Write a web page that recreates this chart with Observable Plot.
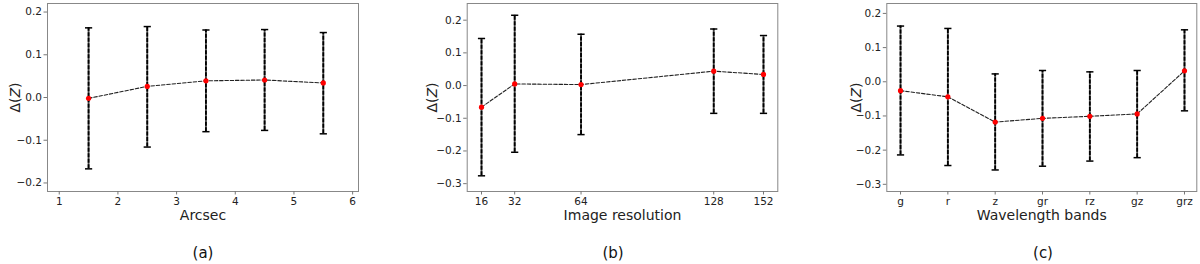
<!DOCTYPE html>
<html>
<head>
<meta charset="utf-8">
<script src="https://cdn.jsdelivr.net/npm/d3@7"></script>
<script src="https://cdn.jsdelivr.net/npm/@observablehq/plot@0.6"></script>
<style>
  html, body { margin: 0; padding: 0; background: #fff; }
  body { width: 1200px; height: 264px; position: relative; overflow: hidden; font-family: "DejaVu Sans", sans-serif; }
  .panel { position: absolute; top: 0; width: 400px; height: 264px; }
  .caption { position: absolute; top: 244px; font-size: 15px; color: #111; transform: translateX(-50%); }
  g[aria-label="x-axis label"] text, g[aria-label="y-axis label"] text { font-size: 14px; }
</style>
</head>
<body>
<div id="pa" class="panel" style="left:0"></div>
<div id="pb" class="panel" style="left:400px"></div>
<div id="pc" class="panel" style="left:800px"></div>
<div class="caption" style="left:203px">(a)</div>
<div class="caption" style="left:613px">(b)</div>
<div class="caption" style="left:1043px">(c)</div>
<script>
// ---- data ----
const arcsec = [1.5, 2.5, 3.5, 4.5, 5.5];
const arcsecMean = [-0.002, 0.026, 0.039, 0.041, 0.034];
const arcsecLow = [-0.167, -0.116, -0.080, -0.077, -0.085];
const arcsecHigh = [0.163, 0.166, 0.158, 0.159, 0.152];
const arcsecTicks = [1, 2, 3, 4, 5, 6];

const resolution = [16, 32, 64, 128, 152];
const resolutionMean = [-0.066, 0.005, 0.003, 0.044, 0.034];
const resolutionLow = [-0.276, -0.204, -0.150, -0.085, -0.085];
const resolutionHigh = [0.144, 0.215, 0.157, 0.173, 0.153];
const resolutionTicks = [16, 32, 64, 128, 152];

const bands = ["g", "r", "z", "gr", "rz", "gz", "grz"];
const bandsMean = [-0.026, -0.044, -0.118, -0.107, -0.101, -0.094, 0.032];
const bandsLow = [-0.214, -0.245, -0.258, -0.247, -0.232, -0.222, -0.085];
const bandsHigh = [0.163, 0.156, 0.023, 0.033, 0.029, 0.033, 0.152];

const yTicksA = [-0.2, -0.1, 0.0, 0.1, 0.2];
const yTicksBC = [-0.3, -0.2, -0.1, 0.0, 0.1, 0.2];

// horizontal cap symbol
const capSymbol = {
  draw(ctx, size) {
    const w = Math.sqrt(size / Math.PI);
    ctx.moveTo(-w, 0);
    ctx.lineTo(w, 0);
  }
};

const fmtY = d3.format(".1f");

function panel(el, {xs, mean, lo, hi, xDomain, yDomain, xTicks, xFormat, yTicks, xLabel, marginLeft, marginRight, yLabelOffset}) {
  const data = xs.map((x, i) => ({x, m: mean[i], lo: lo[i], hi: hi[i]}));
  const chart = Plot.plot({
    width: 400,
    height: 264,
    marginTop: 3,
    marginBottom: 73,
    marginLeft,
    marginRight,
    style: {fontFamily: "DejaVu Sans", fontSize: "10.5px", color: "#222", background: "#fff"},
    x: {domain: xDomain},
    y: {domain: yDomain},
    marks: [
      Plot.frame({stroke: "#888", strokeWidth: 1}),
      Plot.axisX({ticks: xTicks, tickFormat: xFormat, tickSize: 3.5, tickPadding: 2.5, label: xLabel, labelArrow: "none", labelAnchor: "center", labelOffset: 28, stroke: "#777"}),
      Plot.axisY({ticks: yTicks, tickFormat: fmtY, tickSize: 3.5, tickPadding: 2, label: "Δ(Z)", labelArrow: "none", labelAnchor: "center", labelOffset: yLabelOffset, stroke: "#777"}),
      Plot.ruleX(data, {x: "x", y1: "lo", y2: "hi", stroke: "#555", strokeWidth: 1.8}),
      Plot.ruleX(data, {x: "x", y1: "lo", y2: "hi", stroke: "#000", strokeWidth: 1.8, strokeDasharray: "4,1.5"}),
      Plot.dot(data, {x: "x", y: "hi", symbol: capSymbol, r: 3.6, stroke: "#000", strokeWidth: 1.5}),
      Plot.dot(data, {x: "x", y: "lo", symbol: capSymbol, r: 3.6, stroke: "#000", strokeWidth: 1.5}),
      Plot.line(data, {x: "x", y: "m", stroke: "#222", strokeWidth: 1.1, strokeDasharray: "3.5,1.8"}),
      Plot.dot(data, {x: "x", y: "m", fill: "#ff0000", r: 2.6})
    ]
  });
  chart.querySelectorAll('g[aria-label="x-axis label"] text').forEach(t => {
    t.textContent = xLabel;
  });
  chart.querySelectorAll('g[aria-label="y-axis label"] text').forEach(t => {
    t.innerHTML = 'Δ(<tspan font-style="italic">Z</tspan>)';
  });
  document.getElementById(el).appendChild(chart);
}

panel("pa", {
  xs: arcsec, mean: arcsecMean, lo: arcsecLow, hi: arcsecHigh,
  xDomain: [0.8, 6.1], yDomain: [-0.22, 0.22],
  xTicks: arcsecTicks, xFormat: d => String(d), yTicks: yTicksA,
  xLabel: "Arcsec", marginLeft: 47, marginRight: 42, yLabelOffset: 37
});

panel("pb", {
  xs: resolution, mean: resolutionMean, lo: resolutionLow, hi: resolutionHigh,
  xDomain: [9.1, 158.9], yDomain: [-0.324, 0.251],
  xTicks: resolutionTicks, xFormat: d => String(d), yTicks: yTicksBC,
  xLabel: "Image resolution", marginLeft: 66.7, marginRight: 22.7, yLabelOffset: 40
});

panel("pc", {
  xs: bands.map((_, i) => i), mean: bandsMean, lo: bandsLow, hi: bandsHigh,
  xDomain: [-0.29, 6.26], yDomain: [-0.321, 0.229],
  xTicks: bands.map((_, i) => i), xFormat: i => bands[i], yTicks: yTicksBC,
  xLabel: "Wavelength bands", marginLeft: 86.3, marginRight: 3.7, yLabelOffset: 36
});
</script>
</body>
</html>
